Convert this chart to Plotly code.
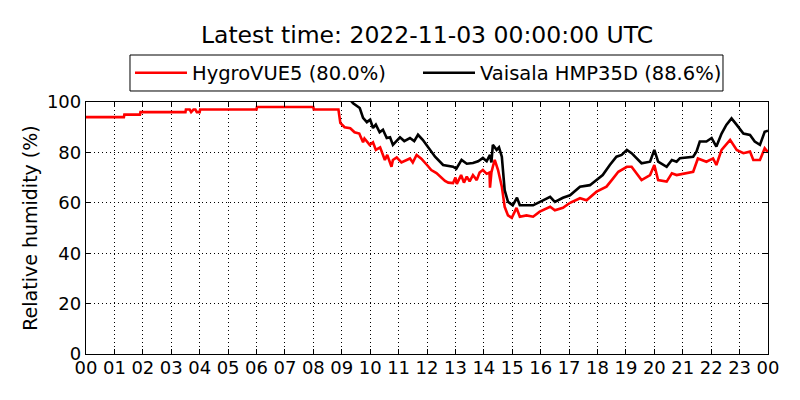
import datetime as dt
import plotly.graph_objects as go

# ---- data ----
BASE_DATE = "2022-11-02"
TITLE = "Latest time: 2022-11-03 00:00:00 UTC"
Y_TITLE = "Relative humidity (%)"

hygro_name = "HygroVUE5 (80.0%)"
hygro_times = [
    "00:00", "01:20", "01:21", "01:54", "01:55", "03:30", "03:31", "03:39", "03:42", "03:47",
    "03:51", "03:54", "04:00", "04:01", "06:00", "06:01", "08:00", "08:01", "08:53", "08:57",
    "09:06", "09:18", "09:27", "09:37", "09:45", "09:48", "09:59", "10:06", "10:12", "10:21",
    "10:31", "10:36", "10:45", "10:48", "10:56", "11:06", "11:24", "11:30", "11:38", "11:48",
    "12:00", "12:09", "12:20", "12:30", "12:38", "12:45", "12:55", "13:00", "13:03", "13:12",
    "13:18", "13:24", "13:30", "13:37", "13:45", "13:51", "13:58", "14:06", "14:12", "14:13",
    "14:16", "14:19", "14:23", "14:30", "14:38", "14:44", "14:51", "14:59", "15:09", "15:16",
    "15:30", "15:44", "15:58", "16:20", "16:30", "16:47", "17:02", "17:23", "17:37", "17:58",
    "18:19", "18:33", "18:44", "19:02", "19:12", "19:33", "19:51", "20:00", "20:08", "20:26",
    "20:37", "20:47", "21:22", "21:32", "21:50", "22:04", "22:11", "22:22", "22:40", "22:54",
    "23:08", "23:22", "23:29", "23:43", "23:53", "24:00",
]
hygro_values = [
    94, 94, 95, 95, 96, 96, 97, 97, 96, 97,
    97, 96, 96, 97, 97, 98, 98, 97, 97, 91.7,
    90, 89.6, 88, 87.5, 84, 85.5, 83, 84, 81, 82,
    77, 79, 74.3, 77, 78, 76, 77.6, 76, 79, 77.5,
    75, 73, 71.8, 70, 68.7, 68, 67.8, 70, 67.5, 71,
    68, 70.4, 68.5, 71, 69, 72, 73, 71.5, 72, 66,
    72, 74.3, 77, 73, 66.4, 58.4, 55, 54, 58, 54.5,
    55, 54.5, 56.5, 58.4, 57, 58, 60, 61.8, 61, 64.4,
    66.4, 69.7, 72.3, 74.3, 74.3, 69, 71, 75, 69, 68.4,
    71.7, 71, 72.3, 77.6, 76.3, 77.6, 75, 81, 85, 81,
    79.7, 80.3, 77, 77, 81.6, 80.0,
]

vaisala_name = "Vaisala HMP35D (88.6%)"
vaisala_times = [
    "09:17", "09:24", "09:38", "09:45", "09:53", "10:00", "10:06", "10:12", "10:20", "10:27",
    "10:35", "10:42", "10:48", "11:03", "11:12", "11:24", "11:33", "11:41", "11:51", "11:59",
    "12:17", "12:34", "12:45", "12:55", "13:02", "13:13", "13:24", "13:37", "13:48", "13:58",
    "14:06", "14:13", "14:16", "14:19", "14:27", "14:32", "14:38", "14:44", "14:51", "15:01",
    "15:10", "15:16", "15:44", "15:58", "16:20", "16:30", "16:47", "17:02", "17:23", "17:44",
    "17:58", "18:11", "18:26", "18:40", "18:51", "19:02", "19:12", "19:33", "19:51", "20:00",
    "20:08", "20:26", "20:37", "20:47", "20:54", "21:22", "21:29", "21:36", "21:50", "22:01",
    "22:11", "22:22", "22:32", "22:43", "22:54", "23:08", "23:22", "23:32", "23:43", "23:53",
    "24:00",
]
vaisala_values = [
    101, 99.5, 97.6, 93.7, 92, 93, 89.7, 91, 88, 89,
    85.7, 86, 83, 86, 84.5, 85.7, 84.5, 87, 85, 83,
    78.3, 75, 74.5, 74.3, 73.5, 77, 75.5, 75.8, 76.5, 77.8,
    76.5, 79, 76, 83, 81, 82, 78.3, 65, 60.4, 59,
    62, 59, 59, 60.4, 62.4, 60.4, 62, 63, 66.4, 67,
    69, 71, 75, 78.3, 79, 81, 79.7, 75.7, 76.3, 81,
    76.3, 74.3, 77, 76.3, 77.7, 78.3, 80.3, 84.3, 84.3, 85.7,
    82.3, 87.5, 90.9, 93.5, 90.9, 87.5, 86.9, 84.3, 83, 88.2,
    88.6,
]

hour_ticks = list(range(0, 25))
hour_labels = ["%02d" % (h % 24) for h in hour_ticks]
y_ticks = [0, 20, 40, 60, 80, 100]

# ---- build ----
base = dt.datetime.fromisoformat(BASE_DATE)


def to_dt(s):
    h, m = s.split(":")
    return base + dt.timedelta(hours=int(h), minutes=int(m))


FONT = "DejaVu Sans"

fig = go.Figure()
fig.add_trace(go.Scatter(
    x=[to_dt(t) for t in hygro_times], y=hygro_values, mode="lines",
    name=hygro_name, line=dict(color="#ff0000", width=2.6), legend="legend",
))
fig.add_trace(go.Scatter(
    x=[to_dt(t) for t in vaisala_times], y=vaisala_values, mode="lines",
    name=vaisala_name, line=dict(color="#000000", width=2.6), legend="legend2",
))

legend_style = dict(orientation="h", xanchor="left", yanchor="middle", y=1.115,
                    borderwidth=0, bgcolor="rgba(0,0,0,0)",
                    font=dict(family=FONT, size=19.5, color="black"), itemwidth=52)

# the page body adds an 8px offset; margins compensate so the plot sits where the reference has it
fig.update_layout(
    width=800, height=400,
    margin=dict(l=78, r=40, t=94, b=54),
    paper_bgcolor="white", plot_bgcolor="white",
    font=dict(family=FONT, size=18, color="black"),
    title=dict(text=TITLE, xref="paper", x=0.5, xanchor="center",
               yref="container", y=0.9325, yanchor="middle",
               font=dict(family=FONT, size=23.5, color="black")),
    showlegend=True,
    legend=dict(x=0.0645, **legend_style),
    legend2=dict(x=0.4868, **legend_style),
    shapes=[dict(type="rect", xref="paper", yref="paper",
                 x0=0.0645, x1=0.934, y0=1.0437, y1=1.1865,
                 line=dict(color="black", width=1), fillcolor="rgba(0,0,0,0)",
                 layer="below")],
)

fig.update_xaxes(
    type="date", automargin=False,
    range=[base, base + dt.timedelta(hours=24)],
    tickvals=[base + dt.timedelta(hours=h) for h in hour_ticks],
    ticktext=hour_labels,
    ticks="inside", ticklen=5, tickcolor="black", tickwidth=1,
    showline=True, linecolor="black", linewidth=1.3, mirror="ticks",
    showgrid=True, gridcolor="black", gridwidth=1, griddash="1px,3px",
    zeroline=False, tickfont=dict(family=FONT, size=18, color="black"),
    ticklabelstandoff=-3,
)
fig.update_yaxes(
    range=[0, 100], tickvals=y_ticks, automargin=False,
    title=dict(text=Y_TITLE, font=dict(family=FONT, size=19, color="black"), standoff=4),
    ticks="inside", ticklen=5, tickcolor="black", tickwidth=1,
    showline=True, linecolor="black", linewidth=1.3, mirror="ticks",
    showgrid=True, gridcolor="black", gridwidth=1, griddash="1px,3px",
    zeroline=False, tickfont=dict(family=FONT, size=18, color="black"),
)

fig.write_html("out.html")
